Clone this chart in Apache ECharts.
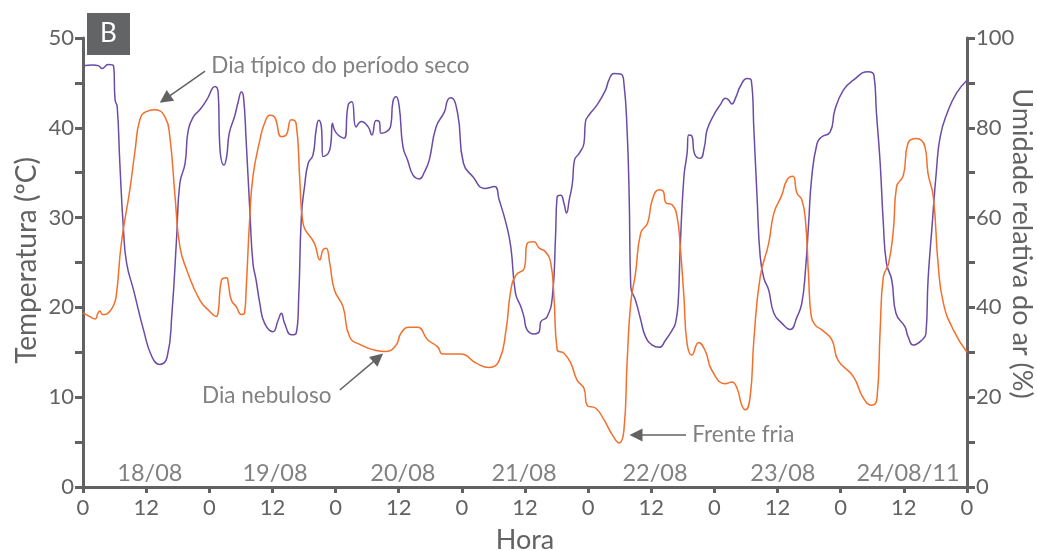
<!DOCTYPE html>
<html>
<head>
<meta charset="utf-8">
<script src="https://cdn.jsdelivr.net/npm/echarts@6/dist/echarts.min.js"></script>
<style>
  html, body { margin: 0; padding: 0; background: #fff; }
  #chart { width: 1037px; height: 551px; }
</style>
</head>
<body>
<div id="chart"></div>
<script>
// Hourly record, 18/08 to 24/08/2011 (hours from 0 h on 18/08)
const tempHours = [0,1.2,2.3,2.8,3.2,3.7,4.2,5.0,5.7,6.3,7.3,8.9,9.9,10.8,12.0,13.7,15.6,16.5,17.5,18.4,19.7,22.2,24.0,25.3,25.7,26.3,27.3,27.6,28.2,29.1,30.1,30.7,31.0,31.7,32.3,33.6,34.5,35.5,36.4,37.7,38.6,39.6,40.5,41.2,41.8,44.0,45.0,45.6,46.2,46.9,47.8,49.4,50.7,52.9,55.7,57.6,59.5,60.4,62.0,63.6,65.5,67.4,68.4,71.8,74.7,77.2,79.1,80.4,81.3,82.3,83.9,84.4,85.7,86.7,87.9,88.9,89.5,90.1,91.4,92.7,93.9,95.2,95.8,97.4,99.0,100.6,101.9,102.8,103.4,104.1,105.0,106.0,107.3,108.2,109.5,110.3,110.7,112.0,112.9,113.5,114.2,114.8,115.7,117.0,118.3,119.5,122.1,123.3,124.3,125.2,125.9,126.8,127.5,128.7,130.3,131.3,132.8,133.8,134.9,135.7,136.6,137.3,137.9,138.4,139.2,140.4,142.3,143.5,146.4,148.3,149.9,150.9,151.5,152.1,153.1,154.0,154.6,155.9,156.8,158.4,160.0,160.6,161.6,162.5,163.5,165.4,168.0];
const tempValues = [19.4,19.0,18.7,19.3,19.6,19.2,19.2,19.5,20.1,21.2,27.2,33.1,37.5,40.9,41.8,42.0,41.2,39.0,32.3,26.8,24.2,20.8,19.6,19.0,19.5,23.0,23.3,22.7,20.8,20.1,19.2,19.4,21.9,30.1,34.6,38.6,40.5,41.4,41.2,39.0,39.2,40.9,40.5,34.2,29.4,27.1,25.3,26.4,26.6,24.9,21.9,20.1,16.7,15.8,15.2,15.1,15.8,17.1,17.8,17.8,16.4,15.6,14.8,14.8,13.8,13.3,14.1,17.5,21.9,23.6,24.4,27.1,27.3,26.6,26.2,24.9,21.2,15.3,14.9,13.8,11.9,11.0,9.1,8.8,7.5,5.8,4.9,6.3,13.8,20.5,23.8,28.3,29.4,32.0,33.1,32.9,31.7,31.4,30.1,26.8,21.2,16.0,14.7,16.1,15.1,13.0,11.5,11.7,11.0,9.1,8.6,10.1,16.4,23.4,27.1,30.5,32.5,34.2,34.6,32.7,32.0,29.7,23.4,19.0,18.0,17.5,16.4,14.1,12.3,9.9,9.1,9.9,17.5,23.4,24.9,28.6,33.4,34.7,38.3,38.8,37.9,34.9,32.3,24.9,20.5,17.5,15.0];

const humHours = [0,1.9,3.0,3.6,4.8,5.8,6.1,6.5,7.0,7.7,8.3,9.6,11.5,13.1,14.6,16.0,16.9,17.8,18.4,19.4,20.0,21.0,22.2,23.5,25.1,25.7,26.0,26.8,27.3,27.8,28.8,29.5,30.1,30.5,31.0,31.7,32.3,32.9,33.6,34.5,36.1,37.1,37.7,38.3,39.6,40.5,41.0,41.5,42.1,42.8,43.7,44.3,44.8,45.3,45.6,46.6,47.1,47.4,47.8,48.5,49.6,50.4,51.1,51.9,52.9,54.2,54.9,55.7,56.3,56.6,57.6,58.5,58.9,59.5,60.1,60.8,61.7,62.7,63.9,64.9,65.8,67.1,68.7,69.3,69.9,71.2,72.3,74.1,76.3,78.2,79.1,80.4,81.3,82.2,83.2,83.8,84.4,85.7,86.7,87.0,88.2,89.2,89.8,90.1,90.8,91.4,91.9,92.4,93.0,93.4,94.3,95.2,95.5,96.2,97.7,99.3,100.0,100.9,102.2,102.8,103.4,103.8,104.1,105.0,106.0,106.9,108.2,109.5,110.7,112.0,112.6,113.1,113.5,114.2,114.8,115.1,115.7,116.2,117.3,118.1,118.6,119.9,121.1,122.1,122.7,123.3,124.1,124.9,126.2,127.0,127.5,128.1,128.7,129.4,130.3,131.3,132.8,134.4,135.7,136.6,137.3,137.9,138.5,139.5,140.3,142.0,142.9,144.5,146.4,149.2,150.3,150.8,151.5,152.1,152.7,153.7,154.5,156.2,156.8,157.8,159.4,160.2,160.6,161.3,162.2,162.9,164.2,166.0,168.0];
const humValues = [93.8,94.0,93.8,93.2,94.1,93.8,86.2,84.7,72.1,57.2,49.8,43.9,35.0,29.0,27.3,29.0,38.7,55.7,67.6,72.1,79.5,82.5,84.0,86.2,89.2,87.7,75.8,71.7,73.6,78.8,82.5,85.8,88.0,86.9,77.3,61.7,49.8,46.1,40.9,36.5,34.6,37.2,38.7,36.5,33.9,34.2,42.4,60.2,66.9,72.1,73.9,79.5,81.7,80.2,73.6,74.3,76.5,81.0,79.5,78.4,77.7,85.1,85.8,80.2,81.4,80.2,78.4,81.6,81.4,78.8,79.1,80.6,85.8,86.9,84.7,75.8,72.8,69.5,68.6,70.2,72.8,80.2,83.6,86.2,86.7,83.2,72.1,69.1,66.5,66.9,63.9,58.7,53.5,43.1,40.2,37.9,35.0,34.1,34.6,36.8,37.9,42.4,55.7,64.6,65.0,63.2,61.0,63.9,67.6,72.8,74.3,76.5,81.4,82.9,85.1,88.4,90.8,92.1,92.0,89.9,79.5,64.6,44.6,41.6,37.2,33.5,31.6,31.1,32.7,35.0,36.5,40.9,53.5,69.1,74.3,78.4,78.2,74.3,73.2,75.8,79.5,82.9,85.1,86.6,86.2,85.3,86.9,89.2,91.0,90.6,79.5,64.6,51.3,46.5,43.9,38.7,36.5,35.1,37.9,40.9,48.3,58.7,69.1,76.5,77.9,79.1,84.0,88.4,90.6,92.5,91.8,83.2,72.1,58.7,49.8,46.1,38.7,35.7,33.5,31.6,32.7,34.2,46.1,57.2,70.6,78.0,83.2,87.7,90.6];

// Day labels drawn inside the plot, near the bottom
const dayLabels = ['18/08', '19/08', '20/08', '21/08', '22/08', '23/08', '24/08/11'];
const dayLabelHours = [12.7, 36.5, 60.8, 83.8, 108.7, 133.0, 156.8];

// Callouts: text anchor [hour, temperature] and arrow from -> to
const calloutTexts = ['Dia típico do período seco', 'Dia nebuloso', 'Frente fria'];
const calloutAnchors = [[24.3, 46.9], [47.3, 10.2], [115.7, 5.8]];
const calloutArrows = [
  [[23.2, 46.3], [15.6, 43.2]],
  [[48.8, 10.8], [56.1, 14.4]],
  [[114.6, 5.8], [105.1, 5.8]]
];

const FONT = 'Lato';
const GREY = '#626262';
const ORANGE = '#f36f2b';
const PURPLE = '#6a4ca6';

const zip = (xs, ys) => xs.map((x, i) => [x, ys[i]]);

const chart = echarts.init(document.getElementById('chart'), null, { renderer: 'canvas' });

const axisCommon = {
  axisLine: { show: true, lineStyle: { color: GREY, width: 3 } },
  axisTick: { show: true, inside: false, length: 8, lineStyle: { color: GREY, width: 3 } },
  splitLine: { show: false },
  nameLocation: 'middle',
  nameMoveOverlap: false,
  nameTextStyle: { color: GREY, fontSize: 28, fontFamily: FONT }
};

chart.setOption({
  animation: false,
  backgroundColor: '#ffffff',
  grid: { left: 83, right: 70, top: 38, bottom: 64, containLabel: false, outerBoundsMode: 'none' },
  xAxis: Object.assign({}, axisCommon, {
    type: 'value', min: 0, max: 168, interval: 12,
    axisTick: { show: true, length: 6, lineStyle: { color: GREY, width: 3 } },
    axisLabel: { color: GREY, fontSize: 22, fontFamily: FONT, margin: 10, formatter: v => String(v % 24) },
    name: 'Hora', nameGap: 40,
    nameTextStyle: { color: GREY, fontSize: 27, fontFamily: FONT }
  }),
  yAxis: [
    Object.assign({}, axisCommon, {
      type: 'value', min: 0, max: 50, interval: 5, position: 'left',
      axisLabel: { color: GREY, fontSize: 22, fontFamily: FONT, margin: 9, formatter: v => (v % 10 === 0 ? String(v) : '') },
      name: 'Temperatura (ºC)', nameGap: 42, nameRotate: 90,
      nameTextStyle: { color: GREY, fontSize: 28, fontFamily: FONT, padding: [0, 0, 0, 4] }
    }),
    Object.assign({}, axisCommon, {
      type: 'value', min: 0, max: 100, interval: 10, position: 'right',
      axisLabel: { color: GREY, fontSize: 22, fontFamily: FONT, margin: 9, formatter: v => (v % 20 === 0 ? String(v) : '') },
      name: 'Umidade relativa do ar (%)', nameGap: 41, nameRotate: -90,
      nameTextStyle: { color: GREY, fontSize: 27, fontFamily: FONT, padding: [0, 38, 0, 0] }
    })
  ],
  series: [
    {
      name: 'Umidade relativa', type: 'line', yAxisIndex: 1,
      data: zip(humHours, humValues),
      showSymbol: false, smooth: 0.5,
      lineStyle: { color: PURPLE, width: 1.5 }, z: 3
    },
    {
      name: 'Temperatura', type: 'line', yAxisIndex: 0,
      data: zip(tempHours, tempValues),
      showSymbol: false, smooth: 0.5,
      lineStyle: { color: ORANGE, width: 1.5 }, z: 4
    },
    {
      name: 'Dias', type: 'scatter', yAxisIndex: 0, silent: true,
      symbolSize: 1, itemStyle: { color: 'rgba(0,0,0,0)' },
      data: dayLabels.map((d, i) => ({ name: d, value: [dayLabelHours[i], 1.55] })),
      label: { show: true, position: 'inside', formatter: p => p.name, color: GREY, fontSize: 23.5, fontFamily: FONT },
      z: 5
    },
    {
      name: 'Notas', type: 'scatter', yAxisIndex: 0, silent: true,
      symbolSize: 1, itemStyle: { color: 'rgba(0,0,0,0)' },
      data: calloutTexts.map((t, i) => ({
        name: t, value: calloutAnchors[i],
        label: { position: i === 1 ? 'left' : 'right' }
      })),
      label: { show: true, distance: 0, formatter: p => p.name, color: GREY, fontSize: 22.5, fontFamily: FONT },
      markLine: {
        silent: true, animation: false,
        symbol: ['none', 'triangle'], symbolSize: 13,
        label: { show: false },
        itemStyle: { color: GREY },
        lineStyle: { color: GREY, width: 1.5, type: 'solid' },
        data: calloutArrows.map(a => [{ coord: a[0] }, { coord: a[1] }])
      },
      z: 5
    }
  ],
  graphic: [
    {
      type: 'group', left: 87, top: 13,
      children: [
        { type: 'rect', shape: { x: 0, y: 0, width: 43, height: 42 }, style: { fill: '#636466' } },
        { type: 'text', x: 21.5, y: 21, style: { text: 'B', fill: '#ffffff', fontSize: 26, fontFamily: FONT, align: 'center', verticalAlign: 'middle' } }
      ]
    }
  ]
});
</script>
</body>
</html>
